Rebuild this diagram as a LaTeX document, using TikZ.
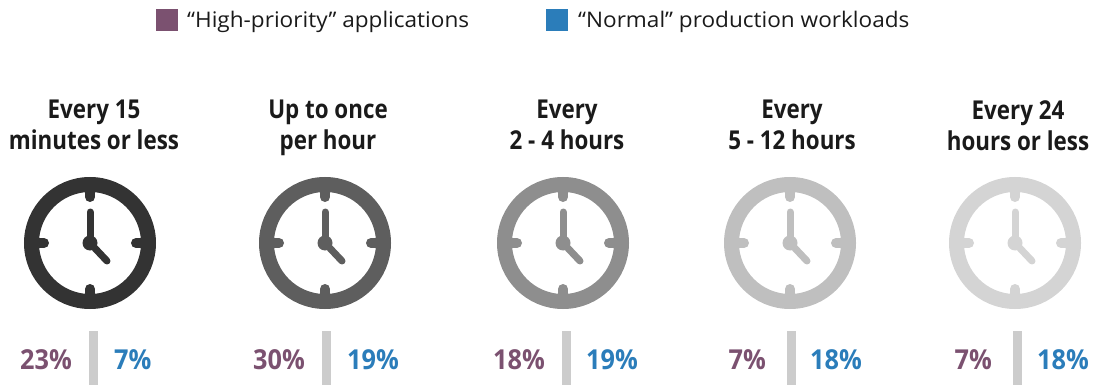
\documentclass[tikz,border=0pt]{standalone}
\usepackage{fontspec}
\setmainfont{Open Sans}
\newfontfamily\headfont[FakeStretch=0.86]{Open Sans}
\newfontfamily\keyfont[FakeStretch=1.05]{Open Sans}
\newfontfamily\pctfont[FakeStretch=0.92]{Open Sans}
\usepackage{xcolor}
\definecolor{hiprio}{HTML}{7B5170}
\definecolor{normal}{HTML}{2B7DBA}
\definecolor{ink}{HTML}{1A1A1A}
\definecolor{divider}{HTML}{CCCCCC}
\definecolor{clockA}{HTML}{333333}
\definecolor{clockB}{HTML}{5E5E5E}
\definecolor{clockC}{HTML}{8E8E8E}
\definecolor{clockD}{HTML}{BFBFBF}
\definecolor{clockE}{HTML}{D4D4D4}

\begin{document}
\begin{tikzpicture}[x=1pt,y=-1pt]

\tikzset{swatch/.style = {minimum size=22pt, inner sep=0}}
\tikzset{keytext/.style = {anchor=base west, inner sep=0, text=ink, font=\keyfont\fontsize{21.5}{25}\selectfont}}
\tikzset{heading/.style = {anchor=north, inner sep=0, align=center, text=ink, font=\headfont\fontsize{26}{31}\selectfont\bfseries}}
\tikzset{pct/.style = {inner sep=0, font=\pctfont\fontsize{27.5}{30}\selectfont\bfseries}}
\tikzset{bar/.style = {draw=divider, line width=9pt}}
\tikzset{clock/.pic = {
  \draw[line width=15pt] (0,0) circle (58.5);
  \draw[line width=10pt, line cap=round] (0,-51) -- (0,-46);
  \draw[line width=10pt, line cap=round] (0,51) -- (0,46);
  \draw[line width=10pt, line cap=round] (-51,0) -- (-46,0);
  \draw[line width=10pt, line cap=round] (51,0) -- (46,0);
  \draw[line width=7pt, line cap=round] (0,0) -- (0,-31);
  \draw[line width=7pt, line cap=round] (0,0) -- (17,18);
  \fill (0,0) circle (7.5);
}}

\useasboundingbox (0,0) rectangle (1095,385);

%legend
\node[swatch, fill=hiprio] (khi) at (166.5,20.5) {};
\node[keytext] (thi) at (187,28) {“High-priority” applications};
\node[swatch, fill=normal] (knorm) at (556.5,20.5) {};
\node[keytext] (tnorm) at (578,28) {“Normal” production workloads};

%headings
\node[heading] (h1) at (94,100) {Every 15\\minutes or less};
\node[heading] (h2) at (328,100) {Up to once\\per hour};
\node[heading] (h3) at (567,100) {Every\\2 - 4 hours};
\node[heading] (h4) at (792,100) {Every\\5 - 12 hours};
\node[heading] (h5) at (1018,100) {Every 24\\hours or less};

%clocks
\pic[color=clockA] (c1) at (90,243) {clock};
\pic[color=clockB] (c2) at (325,243) {clock};
\pic[color=clockC] (c3) at (563,243) {clock};
\pic[color=clockD] (c4) at (790,243) {clock};
\pic[color=clockE] (c5) at (1015,243) {clock};

%dividers
\draw[bar] (93,331) -- (93,385);
\draw[bar] (326.5,331) -- (326.5,385);
\draw[bar] (566,331) -- (566,385);
\draw[bar] (791,331) -- (791,385);
\draw[bar] (1017,331) -- (1017,385);

%shares
\node[pct, anchor=base east, text=hiprio] (p1) at (72,369) {23\%};
\node[pct, anchor=base west, text=normal] (q1) at (114,369) {7\%};
\node[pct, anchor=base east, text=hiprio] (p2) at (305,369) {30\%};
\node[pct, anchor=base west, text=normal] (q2) at (347,369) {19\%};
\node[pct, anchor=base east, text=hiprio] (p3) at (545,369) {18\%};
\node[pct, anchor=base west, text=normal] (q3) at (586,369) {19\%};
\node[pct, anchor=base east, text=hiprio] (p4) at (766,369) {7\%};
\node[pct, anchor=base west, text=normal] (q4) at (810,369) {18\%};
\node[pct, anchor=base east, text=hiprio] (p5) at (992,369) {7\%};
\node[pct, anchor=base west, text=normal] (q5) at (1037,369) {18\%};
\end{tikzpicture}
\end{document}
